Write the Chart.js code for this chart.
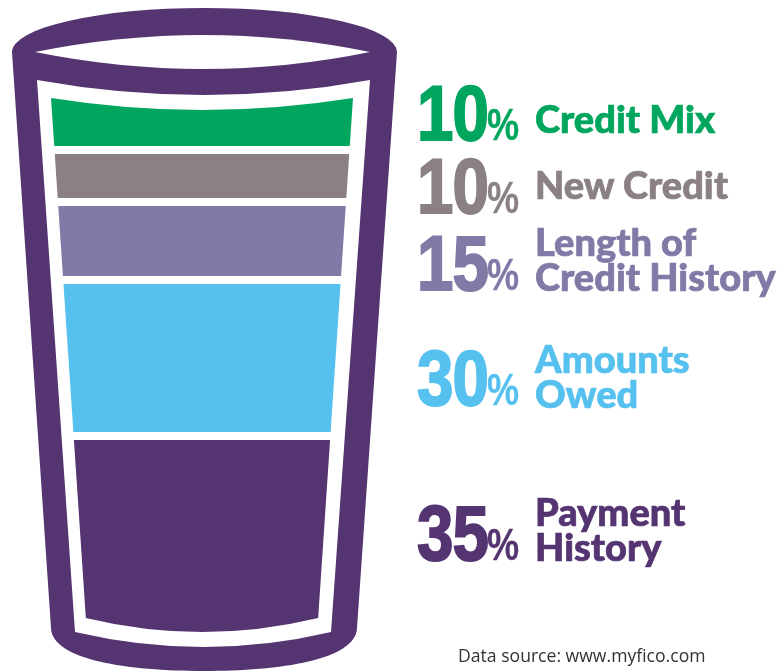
<!DOCTYPE html>
<html>
<head>
<meta charset="utf-8">
<title>What makes up a FICO score</title>
<script src="https://cdn.jsdelivr.net/npm/chart.js@4.4.0/dist/chart.umd.min.js"></script>
<style>
    html, body { margin: 0; padding: 0; background: #fff; }
    #wrap { position: relative; width: 782px; height: 671px; overflow: hidden; }
    #fico { position: absolute; left: 0; top: 0; }
    .pct, .sign {
        position: absolute;
        font-family: 'Liberation Sans Narrow', 'Arial Narrow', 'Liberation Sans', sans-serif;
        font-weight: 700; white-space: nowrap;
        transform-origin: 0 0;
    }
    .pct {
        left: 417px; font-size: 78px; line-height: 78px; letter-spacing: -1px;
        transform: scaleX(0.84);
        -webkit-text-stroke: 2px currentColor;
    }
    .sign {
        left: 487px; font-size: 44px; line-height: 44px;
        transform: scaleX(0.82);
        -webkit-text-stroke: 0.3px currentColor;
    }
    .name {
        position: absolute; left: 535px;
        font-family: Lato, 'Open Sans', sans-serif;
        font-weight: 900; font-size: 38px; line-height: 35px;
        white-space: nowrap;
        -webkit-text-stroke: 0.7px currentColor;
    }
    #source {
        position: absolute; left: 458px; top: 647px;
        font-family: 'Open Sans', sans-serif; font-size: 17.6px; line-height: 17px;
        color: #333;
    }
</style>
</head>
<body>
<div id="wrap">
    <canvas id="fico" width="782" height="671"></canvas>
    <div id="source">Data source: www.myfico.com</div>
</div>
<script>
// Score factors, bottom of the glass first
const factors = ['Payment History', 'Amounts Owed', 'Length of Credit History', 'New Credit', 'Credit Mix'];
const nameLines = [['Payment', 'History'], ['Amounts', 'Owed'], ['Length of', 'Credit History'], ['New Credit'], ['Credit Mix']];
const shares = [35, 30, 15, 10, 10];
const layerColors = ['#543571', '#56c1ef', '#8379a7', '#8b8083', '#00a65e'];

// label placement (baselines in px)
const pctBaselines = [560, 405, 290, 213, 140];
const nameBaselines = [525, 372, 255, 198, 132];

const TAPER = 0.067; // how much the glass narrows per px going down
const GAP = 8;       // white space between layers

const glassPlugin = {
    id: 'glass',
    beforeDatasetsDraw(chart) {
        const ctx = chart.ctx;
        ctx.save();
        // glass body + rim
        ctx.fillStyle = '#543571';
        ctx.beginPath();
        ctx.ellipse(204.5, 52, 192.5, 44, 0, Math.PI, 2 * Math.PI);
        ctx.lineTo(357, 628);
        ctx.bezierCurveTo(356, 660, 280, 671, 204, 671);
        ctx.bezierCurveTo(128, 671, 52, 660, 51, 628);
        ctx.closePath();
        ctx.fill();

        ctx.fillStyle = '#fff';
        // opening of the rim
        ctx.beginPath();
        ctx.moveTo(35, 52);
        ctx.quadraticCurveTo(204, 18, 370, 52);
        ctx.quadraticCurveTo(204, 86, 35, 52);
        ctx.closePath();
        ctx.fill();
        // inside of the glass
        ctx.beginPath();
        ctx.moveTo(37, 80);
        ctx.quadraticCurveTo(204, 110, 370, 80);
        ctx.lineTo(331, 632);
        ctx.quadraticCurveTo(204, 662, 75, 632);
        ctx.closePath();
        ctx.fill();
        ctx.restore();
    },
    beforeDatasetDraw(chart, args) {
        const ctx = chart.ctx;
        const top = chart.chartArea.top;
        const last = chart.data.datasets.length - 1;
        const color = chart.data.datasets[args.index].backgroundColor;
        ctx.save();
        ctx.fillStyle = color;
        args.meta.data.forEach(bar => {
            const { x, y, base, width } = bar.getProps(['x', 'y', 'base', 'width'], true);
            // gaps only between layers, not at the very top/bottom
            const y0 = Math.min(y, base) + (args.index === last ? 0 : GAP / 2);
            const y1 = Math.max(y, base) - (args.index === 0 ? 0 : GAP / 2);
            const left = yy => x - width / 2 + (yy - top) * TAPER;
            const right = yy => x + width / 2 - (yy - top) * TAPER;
            ctx.beginPath();
            ctx.moveTo(left(y0), y0);
            if (args.index === last) {
                ctx.quadraticCurveTo(x, y0 + 24, right(y0), y0); // liquid surface
            } else {
                ctx.lineTo(right(y0), y0);
            }
            ctx.lineTo(right(y1), y1);
            if (args.index === 0) {
                ctx.quadraticCurveTo(x, y1 + 28, left(y1), y1); // round bottom
            } else {
                ctx.lineTo(left(y1), y1);
            }
            ctx.closePath();
            ctx.fill();
        });
        ctx.restore();
        return false;
    }
};

new Chart(document.getElementById('fico'), {
    type: 'bar',
    data: {
        labels: ['FICO Score'],
        datasets: factors.map((f, i) => ({
            label: f,
            data: [shares[i]],
            backgroundColor: layerColors[i],
            barPercentage: 1,
            categoryPercentage: 1
        }))
    },
    options: {
        responsive: false,
        devicePixelRatio: 1,
        animation: false,
        layout: { padding: { left: 51, right: 429, top: 98, bottom: 53 } },
        scales: {
            x: { display: false, stacked: true },
            y: { display: false, stacked: true, min: 0, max: 100 }
        },
        plugins: { legend: { display: false }, tooltip: { enabled: false } }
    },
    plugins: [glassPlugin]
});

// text labels next to the glass
const wrap = document.getElementById('wrap');
factors.forEach((f, i) => {
    const pct = document.createElement('div');
    pct.className = 'pct';
    pct.style.color = layerColors[i];
    pct.style.top = (pctBaselines[i] - 66) + 'px';
    pct.textContent = shares[i];
    wrap.appendChild(pct);

    const sign = document.createElement('div');
    sign.className = 'sign';
    sign.style.color = layerColors[i];
    sign.style.top = (pctBaselines[i] - 37) + 'px';
    sign.textContent = '%';
    wrap.appendChild(sign);

    const name = document.createElement('div');
    name.className = 'name';
    name.style.color = layerColors[i];
    name.style.top = (nameBaselines[i] - 31) + 'px';
    name.innerHTML = nameLines[i].join('<br>');
    wrap.appendChild(name);
});
</script>
</body>
</html>
